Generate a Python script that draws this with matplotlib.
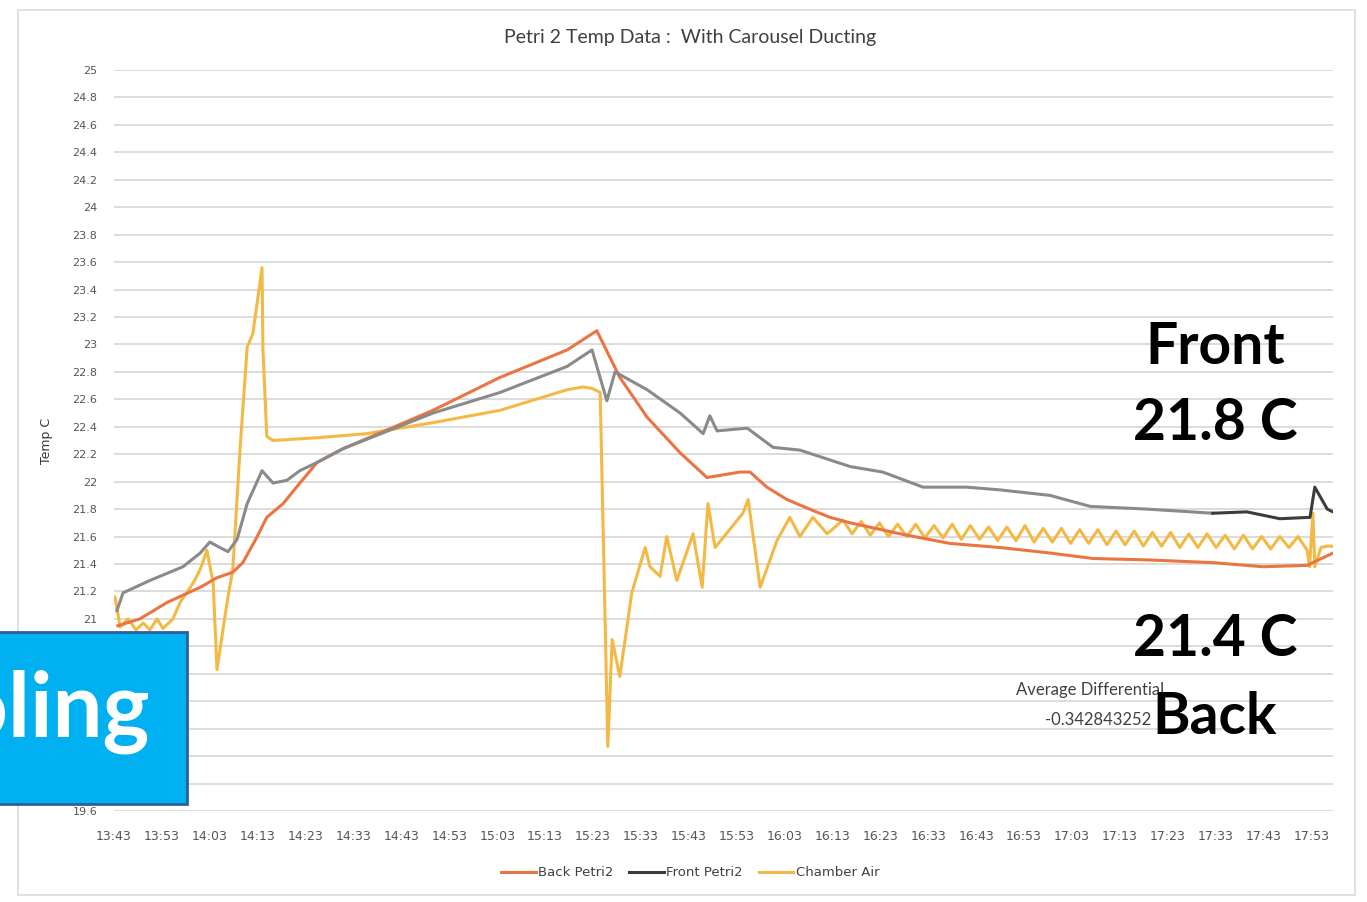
"""
Petri 2 temperature data with carousel ducting (scanned Excel chart recreation).
"""
import matplotlib
matplotlib.use("Agg")
import matplotlib.pyplot as plt
from matplotlib.lines import Line2D
from matplotlib.patches import Rectangle

# minutes since 13:43
back_t = [0.8, 5.4, 11.1, 18.0, 21.5, 24.8, 26.9, 29.9, 31.9, 35.3, 38.8, 42.4, 47.8,
          66.6, 80.6, 94.6, 100.8, 105.6, 111.3, 118.2, 123.8, 130.7, 132.8, 136.3,
          140.5, 145.9, 149.5, 153.7, 164.1, 174.5, 185.0, 195.4, 204.4, 215.7, 229.4,
          239.9, 249.1, 253.3, 254.5]
back_v = [20.95, 21.00, 21.12, 21.23, 21.30, 21.34, 21.41, 21.60, 21.74, 21.84, 21.99,
          22.14, 22.24, 22.52, 22.76, 22.96, 23.10, 22.76, 22.47, 22.21, 22.03, 22.07,
          22.07, 21.96, 21.87, 21.79, 21.74, 21.70, 21.62, 21.55, 21.52, 21.48, 21.44,
          21.43, 21.41, 21.38, 21.39, 21.46, 21.48]

front_t = [0.6, 1.9, 7.5, 14.4, 18.0, 20.0, 22.1, 23.8, 25.7, 27.8, 30.9, 33.2, 36.1,
           38.8, 42.4, 47.8, 66.6, 80.6, 94.6, 99.8, 102.9, 104.6, 111.3, 118.2, 123.0,
           124.4, 125.9, 132.2, 137.6, 143.2, 153.7, 160.5, 168.9, 178.1, 185.0, 195.4,
           203.8, 215.7, 229.4, 236.5, 243.4, 249.7, 250.7, 253.3, 254.5]
front_v = [21.06, 21.19, 21.28, 21.38, 21.48, 21.56, 21.52, 21.49, 21.58, 21.84, 22.08,
           21.99, 22.01, 22.08, 22.14, 22.24, 22.50, 22.65, 22.84, 22.96, 22.59, 22.80,
           22.67, 22.50, 22.35, 22.48, 22.37, 22.39, 22.25, 22.23, 22.11, 22.07, 21.96,
           21.96, 21.94, 21.90, 21.82, 21.80, 21.77, 21.78, 21.73, 21.74, 21.96, 21.80,
           21.78]

chamber_t = [0.2, 1.3, 2.9, 4.6, 6.1, 7.5, 9.0, 10.2, 12.3, 13.8, 16.5, 18.0, 19.4, 20.7,
             21.5, 23.6, 24.8, 26.3, 27.8, 29.0, 30.9, 31.1, 31.9, 33.2, 42.4, 52.8, 66.6,
             80.6, 94.6, 97.9, 99.8, 101.5, 103.1, 104.0, 105.6, 108.1, 110.9, 111.9,
             114.0, 115.4, 117.5, 120.9, 122.8, 124.0, 125.5, 131.3, 132.4, 134.9, 138.4,
             141.1, 143.2, 145.9, 148.9, 152.2,
             154.1, 156.0, 157.9, 159.8, 161.7, 163.6, 165.5, 167.4, 169.3, 171.2, 173.1,
             175.0, 176.9, 178.8, 180.7, 182.6, 184.5, 186.4, 188.3, 190.2, 192.1, 194.0,
             195.9, 197.8, 199.7, 201.6, 203.5, 205.4, 207.3, 209.2, 211.1, 213.0, 214.9,
             216.8, 218.7, 220.6, 222.5, 224.4, 226.3, 228.2, 230.1, 232.0, 233.9, 235.8,
             237.7, 239.6, 241.5, 243.4, 245.3, 247.2, 249.1, 249.6, 250.3, 250.7, 252.0,
             253.3, 254.5]
chamber_v = [21.16, 20.94, 21.00, 20.92, 20.97, 20.92, 21.00, 20.93, 21.00, 21.12, 21.26,
             21.36, 21.50, 21.26, 20.63, 21.12, 21.36, 22.23, 22.98, 23.08, 23.56, 22.96,
             22.33, 22.30, 22.32, 22.35, 22.43, 22.52, 22.67, 22.69, 22.68, 22.65, 20.07,
             20.85, 20.58, 21.19, 21.52, 21.38, 21.31, 21.60, 21.28, 21.62, 21.23, 21.84,
             21.52, 21.77, 21.87, 21.23, 21.57, 21.74, 21.60, 21.74, 21.62, 21.72,
             21.62, 21.71, 21.61, 21.70, 21.60, 21.69, 21.60, 21.69, 21.59, 21.68, 21.59,
             21.69, 21.58, 21.68, 21.58, 21.67, 21.57, 21.67, 21.57, 21.68, 21.56, 21.66,
             21.56, 21.66, 21.55, 21.65, 21.55, 21.65, 21.54, 21.64, 21.54, 21.64, 21.53,
             21.63, 21.53, 21.63, 21.52, 21.62, 21.52, 21.62, 21.52, 21.61, 21.51, 21.61,
             21.51, 21.60, 21.51, 21.60, 21.52, 21.60, 21.50, 21.38, 21.77, 21.38, 21.52,
             21.53, 21.53]

time_labels = ["13:43", "13:53", "14:03", "14:13", "14:23", "14:33", "14:43", "14:53",
               "15:03", "15:13", "15:23", "15:33", "15:43", "15:53", "16:03", "16:13",
               "16:23", "16:33", "16:43", "16:53", "17:03", "17:13", "17:23", "17:33",
               "17:43", "17:53"]
tick_minutes = [0, 10, 20, 30, 40, 50, 60, 70, 80, 90, 100, 110, 120, 130, 140, 150,
                160, 170, 180, 190, 200, 210, 220, 230, 240, 250]
y_ticks = [19.6, 19.8, 20.0, 20.2, 20.4, 20.6, 20.8, 21.0, 21.2, 21.4, 21.6, 21.8, 22.0,
           22.2, 22.4, 22.6, 22.8, 23.0, 23.2, 23.4, 23.6, 23.8, 24.0, 24.2, 24.4, 24.6,
           24.8, 25.0]
# labels 19.8 .. 20.8 sit under the pasted blue box in the scan
y_labels = ["19.6", "", "", "", "", "", "", "21", "21.2", "21.4", "21.6", "21.8", "22",
            "22.2", "22.4", "22.6", "22.8", "23", "23.2", "23.4", "23.6", "23.8", "24",
            "24.2", "24.4", "24.6", "24.8", "25"]

front_dark_from = 229.4  # the scanned line turns darker here

c_back = "#ea7442"
c_front = "#8a8a8a"
c_front_dark = "#3c3c3c"
c_chamber = "#f4b945"
txt = "#555555"

fig = plt.figure(figsize=(13.67, 9.02), dpi=100)
ax = fig.add_axes([114 / 1367, 1 - 811 / 902, (1333 - 114) / 1367, (811 - 70) / 902])

ax.plot(back_t, back_v, color=c_back, lw=2.2, zorder=3)
split = next(i for i, t in enumerate(front_t) if t >= front_dark_from)
ax.plot(front_t[:split + 1], front_v[:split + 1], color=c_front, lw=2.2, zorder=3)
ax.plot(front_t[split:], front_v[split:], color=c_front_dark, lw=2.2, zorder=3)
ax.plot(chamber_t, chamber_v, color=c_chamber, lw=2.2, zorder=2)

ax.set_xlim(0, 254.5)
ax.set_ylim(19.6, 25)
ax.set_yticks(y_ticks)
ax.set_yticklabels(y_labels)
ax.set_xticks(tick_minutes)
ax.set_xticklabels(time_labels)
ax.grid(axis="y", color="#d6d6d6", lw=1.2)
ax.tick_params(axis="both", length=0, colors=txt)
ax.tick_params(axis="y", labelsize=8, pad=12)
ax.tick_params(axis="x", labelsize=9, pad=14)
for s in ax.spines.values():
    s.set_visible(False)
ax.set_ylabel("Temp C", fontsize=9, color="#333333", labelpad=14)

fig.text(0.505, 1 - 38 / 902, "Petri 2 Temp Data :  With Carousel Ducting",
         ha="center", va="center", fontsize=14, color="#404040", family="Lato")

handles = [Line2D([], [], color=c_back, lw=2.2),
           Line2D([], [], color=c_front_dark, lw=2.2),
           Line2D([], [], color=c_chamber, lw=2.2)]
fig.legend(handles, ["Back Petri2", "Front Petri2", "Chamber Air"], loc="center",
           bbox_to_anchor=(0.505, 1 - 873 / 902), ncol=3, frameon=False, fontsize=9.5,
           handlelength=2.6, handletextpad=0.2, columnspacing=1.2, labelcolor="#404040")

# chart border
fig.add_artist(Rectangle((18 / 1367, 1 - 895 / 902), (1355 - 18) / 1367, (895 - 10) / 902,
                         transform=fig.transFigure, fill=False, ec="#dcdcdc", lw=1.2))

# annotations pasted over the chart
big = dict(ha="center", va="center", fontsize=41, fontweight="bold", color="black",
           family="Lato", zorder=10)
fig.text(1215 / 1367, 1 - 347 / 902, "Front", **big)
fig.text(1215 / 1367, 1 - 423 / 902, "21.8 C", **big)
fig.text(1215 / 1367, 1 - 640 / 902, "21.4 C", **big)
fig.text(1215 / 1367, 1 - 717 / 902, "Back", **big)
fig.text(1090 / 1367, 1 - 690 / 902, "Average Differential", ha="center", va="center",
         fontsize=12, color="#404040", family="Lato", zorder=9)
fig.text(1098 / 1367, 1 - 720 / 902, "-0.342843252", ha="center", va="center",
         fontsize=12, color="#404040", family="Lato", zorder=9)

fig.add_artist(Rectangle((-0.01, 1 - 804 / 902), 187 / 1367 + 0.01, (804 - 632) / 902,
                         transform=fig.transFigure, fc="#00b0f0", ec="#2f5f9a", lw=2,
                         zorder=10))
fig.text(150 / 1367, 1 - 712 / 902, "Cooling", ha="right", va="center", fontsize=64,
         fontweight="bold", color="white", family="Lato", zorder=11)

fig.savefig("out.png", dpi=100, facecolor="white")
